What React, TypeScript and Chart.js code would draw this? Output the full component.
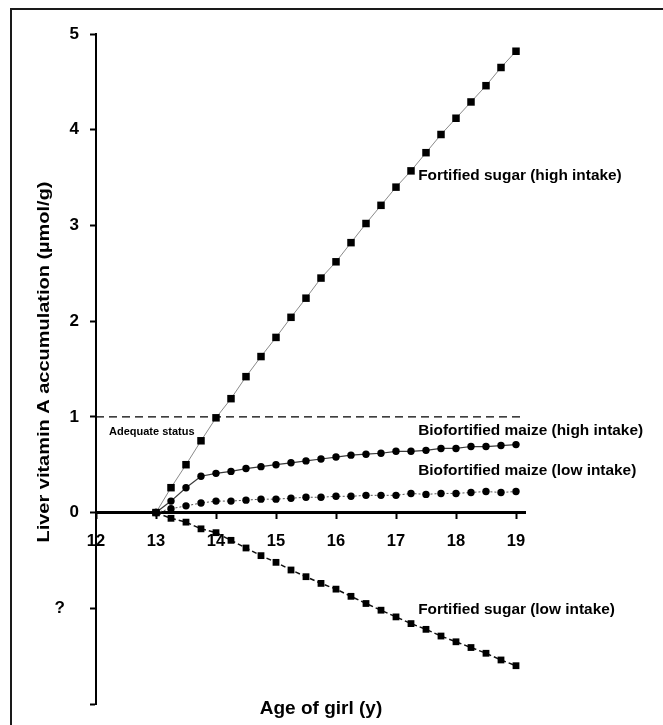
import { useEffect, useRef } from "react";
import { Chart, registerables } from "chart.js";

Chart.register(...registerables);

// ---- data ----
const ages = [
  13, 13.25, 13.5, 13.75, 14, 14.25, 14.5, 14.75, 15, 15.25, 15.5, 15.75, 16,
  16.25, 16.5, 16.75, 17, 17.25, 17.5, 17.75, 18, 18.25, 18.5, 18.75, 19,
];
const sugarHigh = [
  0, 0.26, 0.5, 0.75, 0.99, 1.19, 1.42, 1.63, 1.83, 2.04, 2.24, 2.45, 2.62,
  2.82, 3.02, 3.21, 3.4, 3.57, 3.76, 3.95, 4.12, 4.29, 4.46, 4.65, 4.82,
];
const maizeHigh = [
  0, 0.12, 0.26, 0.38, 0.41, 0.43, 0.46, 0.48, 0.5, 0.52, 0.54, 0.56, 0.58,
  0.6, 0.61, 0.62, 0.64, 0.64, 0.65, 0.67, 0.67, 0.69, 0.69, 0.7, 0.71,
];
const maizeLow = [
  0, 0.04, 0.07, 0.1, 0.12, 0.12, 0.13, 0.14, 0.14, 0.15, 0.16, 0.16, 0.17,
  0.17, 0.18, 0.18, 0.18, 0.2, 0.19, 0.2, 0.2, 0.21, 0.22, 0.21, 0.22,
];
const sugarLow = [
  0, -0.06, -0.1, -0.17, -0.21, -0.29, -0.37, -0.45, -0.52, -0.6, -0.67, -0.74,
  -0.8, -0.875, -0.95, -1.02, -1.09, -1.16, -1.22, -1.29, -1.35, -1.41, -1.47,
  -1.54, -1.6,
];
const adequateLevel = 1;

const xTicks = [12, 13, 14, 15, 16, 17, 18, 19];
const xTickLabels = ["12", "13", "14", "15", "16", "17", "18", "19"];
const yTicks = [-2, -1, 0, 1, 2, 3, 4, 5];
const yTickLabels = ["", "?   ", "0", "1", "2", "3", "4", "5"];

const xTitle = "Age of girl (y)";
const yTitle = "Liver vitamin A accumulation (\u00b5mol/g)";

const seriesNames = [
  "Fortified sugar (high intake)",
  "Biofortified maize (high intake)",
  "Biofortified maize (low intake)",
  "Fortified sugar (low intake)",
];
const adequateText = "Adequate status";

// ---- layout / style (not data) ----
const FONT = '"Liberation Sans", Arial, Helvetica, sans-serif';
const X_MIN = 12;
const X_MAX = 19.15;
const Y_MIN = -2;
const Y_MAX = 5;

const annotations = [
  { text: seriesNames[0], x: 17.37, y: 3.52, size: 15.4 },
  { text: seriesNames[1], x: 17.37, y: 0.857, size: 15.4 },
  { text: seriesNames[2], x: 17.37, y: 0.44, size: 15.4 },
  { text: seriesNames[3], x: 17.37, y: -1.02, size: 15.4 },
  { text: adequateText, x: 12.217, y: 0.846, size: 11 },
];

const pts = (ys: number[]) => ages.map((a, i) => ({ x: a, y: ys[i] }));

const textPlugin = {
  id: "textPlugin",
  beforeDraw(chart: any) {
    const ctx = chart.ctx;
    ctx.save();
    ctx.fillStyle = "#ffffff";
    ctx.fillRect(0, 0, chart.width, chart.height);
    ctx.fillStyle = "#1a1a1a";
    ctx.fillRect(10, 8, chart.width - 10, 2);
    ctx.fillRect(10, 8, 2, chart.height - 8);
    ctx.restore();
  },
  afterDraw(chart: any) {
    const { ctx } = chart;
    const xs = chart.scales.x;
    const ys = chart.scales.y;
    ctx.save();
    ctx.fillStyle = "#000";
    ctx.textAlign = "left";
    ctx.textBaseline = "middle";
    for (const a of annotations) {
      ctx.font = `bold ${a.size}px ${FONT}`;
      ctx.fillText(a.text, xs.getPixelForValue(a.x), ys.getPixelForValue(a.y));
    }
    // x title
    ctx.font = `bold 19px ${FONT}`;
    ctx.textAlign = "center";
    ctx.textBaseline = "alphabetic";
    ctx.fillText(xTitle, 321, 714);
    // y title
    ctx.translate(45, 362);
    ctx.rotate(-Math.PI / 2);
    ctx.font = `bold 16px ${FONT}`;
    const w = ctx.measureText(yTitle).width;
    ctx.scale(361 / w, 1);
    ctx.textBaseline = "middle";
    ctx.fillText(yTitle, 0, 0);
    ctx.restore();
  },
};

export default function App() {
  const ref = useRef<HTMLCanvasElement | null>(null);

  useEffect(() => {
    if (!ref.current) return;
    const chart = new Chart(ref.current, {
      type: "line",
      data: {
        datasets: [
          {
            label: seriesNames[0],
            data: pts(sugarHigh),
            borderColor: "#8a8a8a",
            borderWidth: 1,
            pointStyle: "rect",
            pointRadius: 5.3,
            pointBackgroundColor: "#000",
            pointBorderWidth: 0,
          },
          {
            label: seriesNames[1],
            data: pts(maizeHigh),
            borderColor: "#3a3a3a",
            borderWidth: 1.2,
            pointStyle: "circle",
            pointRadius: 3.7,
            pointBackgroundColor: "#000",
            pointBorderWidth: 0,
          },
          {
            label: seriesNames[2],
            data: pts(maizeLow),
            borderColor: "#555",
            borderWidth: 1,
            borderDash: [2, 2],
            pointStyle: "circle",
            pointRadius: 3.7,
            pointBackgroundColor: "#000",
            pointBorderWidth: 0,
          },
          {
            label: seriesNames[3],
            data: pts(sugarLow),
            borderColor: "#111",
            borderWidth: 1.5,
            borderDash: [5, 3],
            pointStyle: "rect",
            pointRadius: 4.8,
            pointBackgroundColor: "#000",
            pointBorderWidth: 0,
          },
          {
            label: adequateText,
            data: [
              { x: X_MIN, y: adequateLevel },
              { x: X_MAX, y: adequateLevel },
            ],
            borderColor: "#000",
            borderWidth: 1.3,
            borderDash: [8, 5],
            pointRadius: 0,
          },
        ],
      },
      options: {
        animation: false,
        responsive: false,
        events: [],
        layout: { padding: { left: 36, right: 138, top: 34, bottom: 21 } },
        plugins: {
          legend: { display: false },
          tooltip: { enabled: false },
          title: { display: false },
        },
        scales: {
          x: {
            type: "linear",
            min: X_MIN,
            max: X_MAX,
            position: { y: 0 } as any,
            afterBuildTicks: (s: any) => {
              s.ticks = xTicks.map((v) => ({ value: v }));
            },
            afterFit: (s: any) => {
              s.height = 0;
              s.paddingLeft = 0;
              s.paddingRight = 0;
            },
            grid: {
              drawOnChartArea: false,
              drawTicks: true,
              tickLength: 5,
              tickWidth: 2,
              tickColor: "#000",
            },
            border: { display: true, color: "#000", width: 3 },
            ticks: {
              autoSkip: false,
              maxRotation: 0,
              padding: 14,
              color: "#000",
              font: { family: FONT, size: 16.5, weight: "bold" },
              callback: (_v: any, i: number) => xTickLabels[i],
            },
          },
          y: {
            type: "linear",
            min: Y_MIN,
            max: Y_MAX,
            position: "left",
            afterBuildTicks: (s: any) => {
              s.ticks = yTicks.map((v) => ({ value: v }));
            },
            afterFit: (s: any) => {
              s.width = 60;
              s.paddingTop = 0;
              s.paddingBottom = 0;
            },
            grid: {
              drawOnChartArea: false,
              drawTicks: true,
              tickLength: 6,
              tickWidth: 2,
              tickColor: "#000",
            },
            border: { display: true, color: "#000", width: 2 },
            ticks: {
              autoSkip: false,
              padding: 11,
              color: "#000",
              font: { family: FONT, size: 17, weight: "bold" },
              callback: (_v: any, i: number) => yTickLabels[i],
            },
          },
        },
      },
      plugins: [textPlugin],
    });
    return () => chart.destroy();
  }, []);

  return (
    <div
      style={{
        position: "fixed",
        left: 0,
        top: 0,
        width: 663,
        height: 725,
        overflow: "hidden",
        background: "#fff",
      }}
    >
      <canvas ref={ref} width={663} height={725} style={{ display: "block" }} />
    </div>
  );
}
